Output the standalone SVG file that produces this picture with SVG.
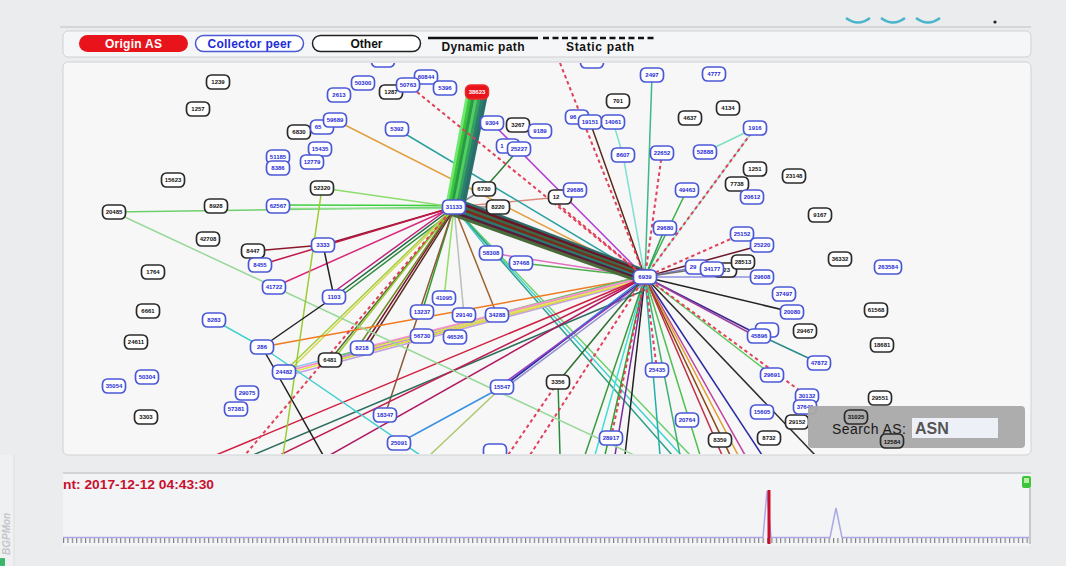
<svg xmlns="http://www.w3.org/2000/svg" width="1066" height="566" viewBox="0 0 1066 566">
<defs>
<style>
.n text{font-family:"Liberation Sans",Arial,sans-serif;font-weight:bold;font-size:6px;text-anchor:middle}
.c rect{fill:#fff;stroke:#4b58d6;stroke-width:1.7}
.c text{fill:#1e2bd6}
.o rect{fill:#fff;stroke:#2b2b2b;stroke-width:1.7}
.o text{fill:#111}
.r rect{fill:#e8131b;stroke:#ee2a2a;stroke-width:1.5}
.r text{fill:#fff}
.t rect{fill:none}
#edges line{fill:none;stroke-width:1.5}
#edges .s{stroke:#e2405a;stroke-width:2;stroke-dasharray:3.5 3}
#edges .b1 line{stroke-width:3.6}
#edges .b2 line{stroke-width:3.2}
.lg{font-family:"Liberation Sans",Arial,sans-serif;font-weight:bold;font-size:12px;text-anchor:middle}
</style>
<clipPath id="gc"><rect x="64" y="63" width="966" height="391" rx="4"/></clipPath>
<pattern id="ticks" patternUnits="userSpaceOnUse" width="4.4" height="5" x="63" y="538"><rect x="0" y="0" width="1.1" height="5" fill="#7a7a7a"/></pattern>
</defs>

<rect x="0" y="0" width="1066" height="566" fill="#ebecee"/>
<line x1="60" y1="27" x2="1031" y2="27" stroke="#d4d6d8" stroke-width="2"/>
<g id="toolbar" fill="none" stroke="#4ab4cc" stroke-width="2.5">
<path d="M846 18 Q858 27 870 18"/>
<path d="M881 18 Q893 27 905 18"/>
<path d="M916 18 Q928 27 940 18"/>
</g>
<circle cx="995" cy="22" r="1.6" fill="#222"/>
<rect x="0" y="455" width="14" height="111" fill="#eff0f1"/>
<line x1="14" y1="455" x2="14" y2="566" stroke="#dcdee0"/>
<text transform="translate(10 555) rotate(-90)" font-family="'Liberation Sans',Arial,sans-serif" font-size="10" font-style="italic" font-weight="bold" fill="#c3c6ca">BGPMon</text>
<rect x="0" y="558" width="5" height="8" rx="1" fill="#3cb46a"/>

<g id="legend">
<rect x="63" y="31" width="968" height="26" rx="5" fill="#f5f6f7" stroke="#cfd1d3"/>
<rect x="79" y="35" width="109" height="17" rx="8.5" fill="#e8131b"/>
<text class="lg" x="133.5" y="47.8" fill="#fff" textLength="57">Origin AS</text>
<rect x="195.5" y="35.5" width="108" height="16" rx="8" fill="#fff" stroke="#4b58d6" stroke-width="1.5"/>
<text class="lg" x="249.5" y="47.8" fill="#1e2bd6" textLength="84">Collector peer</text>
<rect x="312.5" y="35.5" width="108" height="16" rx="8" fill="#fff" stroke="#222" stroke-width="1.5"/>
<text class="lg" x="366.5" y="47.8" fill="#111">Other</text>
<line x1="428" y1="38" x2="538" y2="38" stroke="#111" stroke-width="2.5"/>
<text class="lg" x="483" y="51" fill="#111" textLength="83">Dynamic path</text>
<line x1="543" y1="38" x2="656" y2="38" stroke="#111" stroke-width="2.5" stroke-dasharray="6 3.5"/>
<text class="lg" x="600" y="51" fill="#111" textLength="68">Static path</text>
</g>

<rect x="63" y="62" width="968" height="393" rx="5" fill="#f7f7f8" stroke="#d0d2d4"/>

<g clip-path="url(#gc)">
<g id="edges">
<line x1="114" y1="212" x2="454" y2="207" stroke="#6fcf6f"/>
<line x1="278" y1="205" x2="454" y2="205.5" stroke="#3ecf3e" stroke-width="1.8"/>
<line x1="278" y1="208.5" x2="454" y2="208.5" stroke="#8fe08f" stroke-width="1.8"/>
<line x1="322" y1="188" x2="454" y2="207" stroke="#8edc6e"/>
<line x1="253" y1="251" x2="323" y2="245" stroke="#8a1a2a" stroke-width="1.8"/>
<line x1="323" y1="245" x2="454" y2="207" stroke="#8a1a2a" stroke-width="1.8"/>
<line x1="260" y1="265" x2="454" y2="207" stroke="#c01848"/>
<line x1="274" y1="287" x2="454" y2="207" stroke="#d8287a"/>
<line x1="334" y1="297" x2="454" y2="207" stroke="#1f6a3a" stroke-width="2.2"/>
<line x1="337" y1="299" x2="456" y2="209" stroke="#2e8b3e" stroke-width="2"/>
<line x1="331" y1="294" x2="452" y2="206" stroke="#c02080" stroke-width="1.2"/>
<line x1="362" y1="348" x2="454" y2="207" stroke="#7a1530"/>
<line x1="366" y1="348" x2="455" y2="208" stroke="#5a3020"/>
<line x1="358" y1="347" x2="453" y2="208" stroke="#6b8e23"/>
<line x1="284" y1="372" x2="454" y2="207" stroke="#a0d040"/>
<line x1="288" y1="372" x2="455" y2="208" stroke="#d8d850"/>
<line x1="330" y1="360" x2="454" y2="207" stroke="#556b2f"/>
<line x1="333" y1="360" x2="454" y2="207" stroke="#9acd32" stroke-width="1.2"/>
<line x1="422" y1="312" x2="454" y2="207" stroke="#2ca02c" stroke-width="1.8"/>
<line x1="444" y1="298" x2="454" y2="207" stroke="#8fe060"/>
<line x1="464" y1="315" x2="454" y2="207" stroke="#b8c0b8"/>
<line x1="497" y1="315" x2="454" y2="207" stroke="#a0622d"/>
<line x1="385" y1="415" x2="454" y2="207" stroke="#8b5a3a"/>
<line x1="454" y1="207" x2="681" y2="455" stroke="#40d0d0"/>
<line x1="454" y1="207" x2="690" y2="455" stroke="#6ad06a"/>
<line x1="454" y1="207" x2="672" y2="455" stroke="#2aa08a"/>
<line x1="454" y1="207" x2="484" y2="189" stroke="#888" stroke-width="1.2"/>
<line x1="454" y1="207" x2="498" y2="207" stroke="#888" stroke-width="1.2"/>
<line x1="454" y1="207" x2="560" y2="197" stroke="#e08a7a"/>
<line x1="454" y1="207" x2="491" y2="253" stroke="#40c0c0"/>
<line x1="335" y1="120" x2="645" y2="277" stroke="#e0a040"/>
<line x1="397" y1="129" x2="645" y2="277" stroke="#2aa0a0"/>
<line x1="492" y1="123" x2="645" y2="277" stroke="#b040d0"/>
<line x1="519" y1="149" x2="484" y2="189" stroke="#2e7d32"/>
<line x1="491" y1="253" x2="645" y2="277" stroke="#e070c0"/>
<line x1="521" y1="263" x2="645" y2="277" stroke="#50b050"/>
<line x1="652" y1="75" x2="645" y2="277" stroke="#3cb88a" stroke-width="1.8"/>
<line x1="590" y1="122" x2="645" y2="277" stroke="#5a2a1a" stroke-width="1.8"/>
<line x1="613" y1="122" x2="623" y2="155" stroke="#7fe0d0"/>
<line x1="623" y1="155" x2="645" y2="277" stroke="#7fe0d0"/>
<line x1="687" y1="190" x2="645" y2="277" stroke="#3cb043" stroke-width="2"/>
<line x1="755" y1="128" x2="705" y2="152" stroke="#7fe0c0"/>
<line x1="755" y1="128" x2="645" y2="277" stroke="#9fe8c8"/>
<line x1="665" y1="228" x2="645" y2="277" stroke="#2ca060"/>
<line x1="762" y1="245" x2="645" y2="277" stroke="#6a1a2a"/>
<line x1="697" y1="267" x2="645" y2="277" stroke="#8080d0" stroke-width="1.2"/>
<line x1="743" y1="262" x2="645" y2="277" stroke="#707070" stroke-width="1.2"/>
<line x1="762" y1="277" x2="645" y2="277" stroke="#9090e0" stroke-width="1.2"/>
<line x1="645" y1="277" x2="792" y2="312" stroke="#222"/>
<line x1="645" y1="277" x2="759" y2="335" stroke="#3a2a8a" stroke-width="2"/>
<line x1="645" y1="277" x2="757" y2="337" stroke="#a040a0" stroke-width="1.2"/>
<line x1="759" y1="335" x2="819" y2="363" stroke="#2a8a8a"/>
<line x1="645" y1="277" x2="772" y2="375" stroke="#5ac85a" stroke-width="1.8"/>
<line x1="645" y1="277" x2="815" y2="455" stroke="#2a2a2a"/>
<line x1="645" y1="277" x2="762" y2="455" stroke="#2a2aa0"/>
<line x1="645" y1="277" x2="745" y2="455" stroke="#c040a0"/>
<line x1="645" y1="277" x2="738" y2="455" stroke="#e0a030"/>
<line x1="645" y1="277" x2="730" y2="455" stroke="#8b4513"/>
<line x1="645" y1="277" x2="722" y2="455" stroke="#c0304a"/>
<line x1="645" y1="277" x2="700" y2="455" stroke="#50c050"/>
<line x1="645" y1="277" x2="680" y2="455" stroke="#3cb371"/>
<line x1="645" y1="277" x2="660" y2="455" stroke="#20b2aa" stroke-width="1.2"/>
<line x1="645" y1="277" x2="625" y2="455" stroke="#222"/>
<line x1="645" y1="277" x2="615" y2="455" stroke="#7a2a9a"/>
<line x1="645" y1="277" x2="605" y2="455" stroke="#2ca02c"/>
<line x1="645" y1="277" x2="595" y2="455" stroke="#40e0d0"/>
<line x1="645" y1="277" x2="585" y2="455" stroke="#3a9a3a"/>
<line x1="262" y1="347" x2="645" y2="277" stroke="#f07a20" stroke-width="1.8"/>
<line x1="284" y1="372" x2="645" y2="277" stroke="#ff80c0"/>
<line x1="284" y1="374" x2="645" y2="279" stroke="#e0e050"/>
<line x1="284" y1="370" x2="645" y2="276" stroke="#90c8f0"/>
<line x1="286" y1="376" x2="645" y2="280" stroke="#c0a0e0"/>
<line x1="330" y1="360" x2="645" y2="277" stroke="#c080e0"/>
<line x1="330" y1="362" x2="645" y2="279" stroke="#d8d840"/>
<line x1="330" y1="358" x2="645" y2="275" stroke="#60c060" stroke-width="1.2"/>
<line x1="362" y1="348" x2="645" y2="277" stroke="#ff90d0"/>
<line x1="362" y1="350" x2="645" y2="279" stroke="#e8e060"/>
<line x1="216" y1="455" x2="645" y2="277" stroke="#d02040" stroke-width="1.8"/>
<line x1="253" y1="455" x2="645" y2="290" stroke="#2e6e5e"/>
<line x1="280" y1="455" x2="645" y2="277" stroke="#c02050"/>
<line x1="330" y1="455" x2="645" y2="277" stroke="#b01860"/>
<line x1="502" y1="387" x2="645" y2="277" stroke="#3a80e0"/>
<line x1="504" y1="386" x2="645" y2="279" stroke="#2a2aa0"/>
<line x1="500" y1="386" x2="645" y2="281" stroke="#9a40c0"/>
<line x1="505" y1="388" x2="645" y2="283" stroke="#9090d0" stroke-width="1.2"/>
<line x1="558" y1="382" x2="645" y2="277" stroke="#2e6e2e"/>
<line x1="558" y1="382" x2="560" y2="455" stroke="#2a8a3a"/>
<line x1="502" y1="387" x2="399" y2="443" stroke="#3a90e0"/>
<line x1="502" y1="387" x2="430" y2="455" stroke="#b0c870"/>
<line x1="114" y1="212" x2="634" y2="455" stroke="#98d898"/>
<line x1="322" y1="188" x2="283" y2="455" stroke="#9acd32"/>
<line x1="214" y1="320" x2="262" y2="347" stroke="#40d0d0" stroke-width="1.8"/>
<line x1="262" y1="347" x2="420" y2="455" stroke="#40d0d0" stroke-width="1.8"/>
<line x1="262" y1="347" x2="334" y2="297" stroke="#222"/>
<line x1="262" y1="347" x2="323" y2="455" stroke="#222"/>
<line x1="323" y1="245" x2="334" y2="297" stroke="#222"/>
<g class="b1">
<line x1="468.6" y1="90.3" x2="447.2" y2="205.6" stroke="#6fe86f"/>
<line x1="471.6" y1="90.9" x2="449.8" y2="206.1" stroke="#3cc43c"/>
<line x1="474.5" y1="91.5" x2="452.4" y2="206.6" stroke="#2a9a4a"/>
<line x1="477.5" y1="92.1" x2="455" y2="207.1" stroke="#4fd05f"/>
<line x1="480.4" y1="92.7" x2="457.6" y2="207.6" stroke="#35a060"/>
<line x1="483.4" y1="93.3" x2="460.2" y2="208.1" stroke="#2b7d6d"/>
<line x1="486.3" y1="93.9" x2="462.8" y2="208.6" stroke="#2a6f6a"/>
</g>
<g class="b2">
<line x1="456.7" y1="199.7" x2="647.1" y2="271.4" stroke="#2e6b68"/>
<line x1="455.8" y1="202.1" x2="646.4" y2="273.2" stroke="#6b1424"/>
<line x1="454.9" y1="204.6" x2="645.7" y2="275.1" stroke="#3d6a4a"/>
<line x1="454" y1="207" x2="645" y2="277" stroke="#7a2a18"/>
<line x1="453.1" y1="209.4" x2="644.3" y2="278.9" stroke="#2a7a70"/>
<line x1="452.2" y1="211.9" x2="643.6" y2="280.8" stroke="#5a1a3a"/>
<line x1="451.3" y1="214.3" x2="642.9" y2="282.6" stroke="#4a6a3a"/>
</g>
<line class="s" x1="560" y1="63" x2="645" y2="277"/>
<line class="s" x1="412" y1="88" x2="645" y2="277"/>
<line class="s" x1="755" y1="128" x2="645" y2="277"/>
<line class="s" x1="662" y1="153" x2="645" y2="277"/>
<line class="s" x1="553" y1="200" x2="645" y2="277"/>
<line class="s" x1="742" y1="234" x2="645" y2="277"/>
<line class="s" x1="657" y1="370" x2="645" y2="277"/>
<line class="s" x1="611" y1="438" x2="645" y2="277"/>
<line class="s" x1="645" y1="277" x2="807" y2="396"/>
<line class="s" x1="645" y1="277" x2="530" y2="455"/>
<line class="s" x1="558" y1="382" x2="508" y2="455"/>
<line class="s" x1="454" y1="207" x2="245" y2="455"/>
</g>

<g id="nodes">
<g id="n-top1" class="n c" transform="translate(383 60)"><rect x="-11.5" y="-7" width="23" height="14" rx="5"/></g>
<g id="n-top2" class="n c" transform="translate(592 61)"><rect x="-11.5" y="-7" width="23" height="14" rx="5"/></g>
<g id="n1239" class="n o" transform="translate(218 82)"><rect x="-11.5" y="-7" width="23" height="14" rx="5"/><text y="2.2">1239</text></g>
<g id="n1257" class="n o" transform="translate(198 109)"><rect x="-11.5" y="-7" width="23" height="14" rx="5"/><text y="2.2">1257</text></g>
<g id="n6830" class="n o" transform="translate(299 132)"><rect x="-11.5" y="-7" width="23" height="14" rx="5"/><text y="2.2">6830</text></g>
<g id="n15623" class="n o" transform="translate(173 180)"><rect x="-11.5" y="-7" width="23" height="14" rx="5"/><text y="2.2">15623</text></g>
<g id="n20485" class="n o" transform="translate(114 212)"><rect x="-11.5" y="-7" width="23" height="14" rx="5"/><text y="2.2">20485</text></g>
<g id="n8928" class="n o" transform="translate(216 206)"><rect x="-11.5" y="-7" width="23" height="14" rx="5"/><text y="2.2">8928</text></g>
<g id="n42708" class="n o" transform="translate(208 239)"><rect x="-11.5" y="-7" width="23" height="14" rx="5"/><text y="2.2">42708</text></g>
<g id="n52320" class="n o" transform="translate(322 188)"><rect x="-11.5" y="-7" width="23" height="14" rx="5"/><text y="2.2">52320</text></g>
<g id="n1764" class="n o" transform="translate(153 272)"><rect x="-11.5" y="-7" width="23" height="14" rx="5"/><text y="2.2">1764</text></g>
<g id="n6661" class="n o" transform="translate(148 311)"><rect x="-11.5" y="-7" width="23" height="14" rx="5"/><text y="2.2">6661</text></g>
<g id="n24611" class="n o" transform="translate(136 342)"><rect x="-11.5" y="-7" width="23" height="14" rx="5"/><text y="2.2">24611</text></g>
<g id="n3303" class="n o" transform="translate(146 417)"><rect x="-11.5" y="-7" width="23" height="14" rx="5"/><text y="2.2">3303</text></g>
<g id="n50304" class="n c" transform="translate(147 377)"><rect x="-11.5" y="-7" width="23" height="14" rx="5"/><text y="2.2">50304</text></g>
<g id="n35054" class="n c" transform="translate(114 386)"><rect x="-11.5" y="-7" width="23" height="14" rx="5"/><text y="2.2">35054</text></g>
<g id="n2613" class="n c" transform="translate(339 95)"><rect x="-11.5" y="-7" width="23" height="14" rx="5"/><text y="2.2">2613</text></g>
<g id="n50300" class="n c" transform="translate(363 83)"><rect x="-11.5" y="-7" width="23" height="14" rx="5"/><text y="2.2">50300</text></g>
<g id="n1287" class="n o" transform="translate(391 92)"><rect x="-11.5" y="-7" width="23" height="14" rx="5"/><text y="2.2">1287</text></g>
<g id="n60844" class="n c" transform="translate(426 77)"><rect x="-11.5" y="-7" width="23" height="14" rx="5"/><text y="2.2">60844</text></g>
<g id="n50763" class="n c" transform="translate(408 85)"><rect x="-11.5" y="-7" width="23" height="14" rx="5"/><text y="2.2">50763</text></g>
<g id="n5396" class="n c" transform="translate(445 88)"><rect x="-11.5" y="-7" width="23" height="14" rx="5"/><text y="2.2">5396</text></g>
<g id="n65" class="n c" transform="translate(322 127)"><rect x="-11.5" y="-7" width="23" height="14" rx="5"/><text x="-4" y="2.2">65</text></g>
<g id="n59689" class="n c" transform="translate(335 120)"><rect x="-11.5" y="-7" width="23" height="14" rx="5"/><text y="2.2">59689</text></g>
<g id="n51185" class="n c" transform="translate(278 157)"><rect x="-11.5" y="-7" width="23" height="14" rx="5"/><text y="2.2">51185</text></g>
<g id="n8386" class="n c" transform="translate(278 168)"><rect x="-11.5" y="-7" width="23" height="14" rx="5"/><text y="2.2">8386</text></g>
<g id="n15435" class="n c" transform="translate(320 149)"><rect x="-11.5" y="-7" width="23" height="14" rx="5"/><text y="2.2">15435</text></g>
<g id="n12779" class="n c" transform="translate(312 162)"><rect x="-11.5" y="-7" width="23" height="14" rx="5"/><text y="2.2">12779</text></g>
<g id="n62567" class="n c" transform="translate(278 206)"><rect x="-11.5" y="-7" width="23" height="14" rx="5"/><text y="2.2">62567</text></g>
<g id="n8447" class="n o" transform="translate(253 251)"><rect x="-11.5" y="-7" width="23" height="14" rx="5"/><text y="2.2">8447</text></g>
<g id="n3333" class="n c" transform="translate(323 245)"><rect x="-11.5" y="-7" width="23" height="14" rx="5"/><text y="2.2">3333</text></g>
<g id="n8455" class="n c" transform="translate(260 265)"><rect x="-11.5" y="-7" width="23" height="14" rx="5"/><text y="2.2">8455</text></g>
<g id="n41722" class="n c" transform="translate(274 287)"><rect x="-11.5" y="-7" width="23" height="14" rx="5"/><text y="2.2">41722</text></g>
<g id="n1103" class="n c" transform="translate(334 297)"><rect x="-11.5" y="-7" width="23" height="14" rx="5"/><text y="2.2">1103</text></g>
<g id="n8283" class="n c" transform="translate(214 320)"><rect x="-11.5" y="-7" width="23" height="14" rx="5"/><text y="2.2">8283</text></g>
<g id="n286" class="n c" transform="translate(262 347)"><rect x="-11.5" y="-7" width="23" height="14" rx="5"/><text y="2.2">286</text></g>
<g id="n24482" class="n c" transform="translate(284 372)"><rect x="-11.5" y="-7" width="23" height="14" rx="5"/><text y="2.2">24482</text></g>
<g id="n6481" class="n o" transform="translate(330 360)"><rect x="-11.5" y="-7" width="23" height="14" rx="5"/><text y="2.2">6481</text></g>
<g id="n29075" class="n c" transform="translate(247 393)"><rect x="-11.5" y="-7" width="23" height="14" rx="5"/><text y="2.2">29075</text></g>
<g id="n57381" class="n c" transform="translate(236 409)"><rect x="-11.5" y="-7" width="23" height="14" rx="5"/><text y="2.2">57381</text></g>
<g id="n5392" class="n c" transform="translate(397 129)"><rect x="-11.5" y="-7" width="23" height="14" rx="5"/><text y="2.2">5392</text></g>
<g id="n38623" class="n r" transform="translate(477 92)"><rect x="-11.5" y="-7" width="23" height="14" rx="5"/><text y="2.2">38623</text></g>
<g id="n9304" class="n c" transform="translate(492 123)"><rect x="-11.5" y="-7" width="23" height="14" rx="5"/><text y="2.2">9304</text></g>
<g id="n3267" class="n o" transform="translate(518 125)"><rect x="-11.5" y="-7" width="23" height="14" rx="5"/><text y="2.2">3267</text></g>
<g id="n9189" class="n c" transform="translate(540 131)"><rect x="-11.5" y="-7" width="23" height="14" rx="5"/><text y="2.2">9189</text></g>
<g id="n1x" class="n c" transform="translate(508 146)"><rect x="-11.5" y="-7" width="23" height="14" rx="5"/><text x="-6" y="2.2">1</text></g>
<g id="n25227" class="n c" transform="translate(519 149)"><rect x="-11.5" y="-7" width="23" height="14" rx="5"/><text y="2.2">25227</text></g>
<g id="n6730" class="n o" transform="translate(484 189)"><rect x="-11.5" y="-7" width="23" height="14" rx="5"/><text y="2.2">6730</text></g>
<g id="n8220" class="n o" transform="translate(498 207)"><rect x="-11.5" y="-7" width="23" height="14" rx="5"/><text y="2.2">8220</text></g>
<g id="n12x" class="n o" transform="translate(560 197)"><rect x="-11.5" y="-7" width="23" height="14" rx="5"/><text x="-4" y="2.2">12</text></g>
<g id="n29686" class="n c" transform="translate(575 190)"><rect x="-11.5" y="-7" width="23" height="14" rx="5"/><text y="2.2">29686</text></g>
<g id="n31133" class="n c" transform="translate(454 207)"><rect x="-11.5" y="-7" width="23" height="14" rx="5"/><text y="2.2">31133</text></g>
<g id="n58308" class="n c" transform="translate(491 253)"><rect x="-11.5" y="-7" width="23" height="14" rx="5"/><text y="2.2">58308</text></g>
<g id="n37468" class="n c" transform="translate(521 263)"><rect x="-11.5" y="-7" width="23" height="14" rx="5"/><text y="2.2">37468</text></g>
<g id="n41095" class="n c" transform="translate(444 298)"><rect x="-11.5" y="-7" width="23" height="14" rx="5"/><text y="2.2">41095</text></g>
<g id="n13237" class="n c" transform="translate(422 312)"><rect x="-11.5" y="-7" width="23" height="14" rx="5"/><text y="2.2">13237</text></g>
<g id="n29140" class="n c" transform="translate(464 315)"><rect x="-11.5" y="-7" width="23" height="14" rx="5"/><text y="2.2">29140</text></g>
<g id="n34288" class="n c" transform="translate(497 315)"><rect x="-11.5" y="-7" width="23" height="14" rx="5"/><text y="2.2">34288</text></g>
<g id="n56730" class="n c" transform="translate(422 336)"><rect x="-11.5" y="-7" width="23" height="14" rx="5"/><text y="2.2">56730</text></g>
<g id="n46526" class="n c" transform="translate(455 337)"><rect x="-11.5" y="-7" width="23" height="14" rx="5"/><text y="2.2">46526</text></g>
<g id="n8218" class="n c" transform="translate(362 348)"><rect x="-11.5" y="-7" width="23" height="14" rx="5"/><text y="2.2">8218</text></g>
<g id="n15547" class="n c" transform="translate(502 387)"><rect x="-11.5" y="-7" width="23" height="14" rx="5"/><text y="2.2">15547</text></g>
<g id="n3356" class="n o" transform="translate(558 382)"><rect x="-11.5" y="-7" width="23" height="14" rx="5"/><text y="2.2">3356</text></g>
<g id="n18347" class="n c" transform="translate(385 415)"><rect x="-11.5" y="-7" width="23" height="14" rx="5"/><text y="2.2">18347</text></g>
<g id="n25091" class="n c" transform="translate(399 443)"><rect x="-11.5" y="-7" width="23" height="14" rx="5"/><text y="2.2">25091</text></g>
<g id="n-bot" class="n c" transform="translate(495 451)"><rect x="-11.5" y="-7" width="23" height="14" rx="5"/></g>
<g id="n2497" class="n c" transform="translate(652 75)"><rect x="-11.5" y="-7" width="23" height="14" rx="5"/><text y="2.2">2497</text></g>
<g id="n4777" class="n c" transform="translate(714 74)"><rect x="-11.5" y="-7" width="23" height="14" rx="5"/><text y="2.2">4777</text></g>
<g id="n701" class="n o" transform="translate(618 101)"><rect x="-11.5" y="-7" width="23" height="14" rx="5"/><text y="2.2">701</text></g>
<g id="n4637" class="n o" transform="translate(690 118)"><rect x="-11.5" y="-7" width="23" height="14" rx="5"/><text y="2.2">4637</text></g>
<g id="n4134" class="n o" transform="translate(728 108)"><rect x="-11.5" y="-7" width="23" height="14" rx="5"/><text y="2.2">4134</text></g>
<g id="n96x" class="n c" transform="translate(577 117)"><rect x="-11.5" y="-7" width="23" height="14" rx="5"/><text x="-4" y="2.2">96</text></g>
<g id="n19151" class="n c" transform="translate(590 122)"><rect x="-11.5" y="-7" width="23" height="14" rx="5"/><text y="2.2">19151</text></g>
<g id="n14061" class="n c" transform="translate(613 122)"><rect x="-11.5" y="-7" width="23" height="14" rx="5"/><text y="2.2">14061</text></g>
<g id="n1916" class="n c" transform="translate(755 128)"><rect x="-11.5" y="-7" width="23" height="14" rx="5"/><text y="2.2">1916</text></g>
<g id="n8607" class="n c" transform="translate(623 155)"><rect x="-11.5" y="-7" width="23" height="14" rx="5"/><text y="2.2">8607</text></g>
<g id="n22652" class="n c" transform="translate(662 153)"><rect x="-11.5" y="-7" width="23" height="14" rx="5"/><text y="2.2">22652</text></g>
<g id="n52888" class="n c" transform="translate(705 152)"><rect x="-11.5" y="-7" width="23" height="14" rx="5"/><text y="2.2">52888</text></g>
<g id="n1251" class="n o" transform="translate(755 169)"><rect x="-11.5" y="-7" width="23" height="14" rx="5"/><text y="2.2">1251</text></g>
<g id="n23148" class="n o" transform="translate(794 176)"><rect x="-11.5" y="-7" width="23" height="14" rx="5"/><text y="2.2">23148</text></g>
<g id="n7738" class="n o" transform="translate(737 184)"><rect x="-11.5" y="-7" width="23" height="14" rx="5"/><text y="2.2">7738</text></g>
<g id="n20612" class="n c" transform="translate(752 197)"><rect x="-11.5" y="-7" width="23" height="14" rx="5"/><text y="2.2">20612</text></g>
<g id="n49463" class="n c" transform="translate(687 190)"><rect x="-11.5" y="-7" width="23" height="14" rx="5"/><text y="2.2">49463</text></g>
<g id="n9167" class="n o" transform="translate(820 215)"><rect x="-11.5" y="-7" width="23" height="14" rx="5"/><text y="2.2">9167</text></g>
<g id="n29680" class="n c" transform="translate(665 228)"><rect x="-11.5" y="-7" width="23" height="14" rx="5"/><text y="2.2">29680</text></g>
<g id="n25152" class="n c" transform="translate(742 234)"><rect x="-11.5" y="-7" width="23" height="14" rx="5"/><text y="2.2">25152</text></g>
<g id="n25220" class="n c" transform="translate(762 245)"><rect x="-11.5" y="-7" width="23" height="14" rx="5"/><text y="2.2">25220</text></g>
<g id="n36332" class="n o" transform="translate(840 259)"><rect x="-11.5" y="-7" width="23" height="14" rx="5"/><text y="2.2">36332</text></g>
<g id="n263584" class="n c" transform="translate(888 267)"><rect x="-13.5" y="-7" width="27" height="14" rx="5"/><text y="2.2">263584</text></g>
<g id="n29x" class="n c" transform="translate(697 267)"><rect x="-11.5" y="-7" width="23" height="14" rx="5"/><text x="-4" y="2.2">29</text></g>
<g id="n423" class="n o" transform="translate(725 270)"><rect x="-11.5" y="-7" width="23" height="14" rx="5"/><text y="2.2">423</text></g>
<g id="n34177" class="n c" transform="translate(712 269)"><rect x="-11.5" y="-7" width="23" height="14" rx="5"/><text y="2.2">34177</text></g>
<g id="n28513" class="n o" transform="translate(743 262)"><rect x="-11.5" y="-7" width="23" height="14" rx="5"/><text y="2.2">28513</text></g>
<g id="n29608" class="n c" transform="translate(762 277)"><rect x="-11.5" y="-7" width="23" height="14" rx="5"/><text y="2.2">29608</text></g>
<g id="n6939" class="n c" transform="translate(645 277)"><rect x="-11.5" y="-7" width="23" height="14" rx="5"/><text y="2.2">6939</text></g>
<g id="n37497" class="n c" transform="translate(784 294)"><rect x="-11.5" y="-7" width="23" height="14" rx="5"/><text y="2.2">37497</text></g>
<g id="n20080" class="n c" transform="translate(792 312)"><rect x="-11.5" y="-7" width="23" height="14" rx="5"/><text y="2.2">20080</text></g>
<g id="n29467" class="n o" transform="translate(805 331)"><rect x="-11.5" y="-7" width="23" height="14" rx="5"/><text y="2.2">29467</text></g>
<g id="n61568" class="n o" transform="translate(876 310)"><rect x="-11.5" y="-7" width="23" height="14" rx="5"/><text y="2.2">61568</text></g>
<g id="n18681" class="n o" transform="translate(882 345)"><rect x="-11.5" y="-7" width="23" height="14" rx="5"/><text y="2.2">18681</text></g>
<g id="n-bh" class="n c" transform="translate(767 330)"><rect x="-11.5" y="-7" width="23" height="14" rx="5"/></g>
<g id="n45896" class="n c" transform="translate(759 336)"><rect x="-11.5" y="-7" width="23" height="14" rx="5"/><text y="2.2">45896</text></g>
<g id="n47872" class="n c" transform="translate(819 363)"><rect x="-11.5" y="-7" width="23" height="14" rx="5"/><text y="2.2">47872</text></g>
<g id="n25435" class="n c" transform="translate(657 370)"><rect x="-11.5" y="-7" width="23" height="14" rx="5"/><text y="2.2">25435</text></g>
<g id="n29691" class="n c" transform="translate(772 375)"><rect x="-11.5" y="-7" width="23" height="14" rx="5"/><text y="2.2">29691</text></g>
<g id="n29551" class="n o" transform="translate(880 398)"><rect x="-11.5" y="-7" width="23" height="14" rx="5"/><text y="2.2">29551</text></g>
<g id="n15605" class="n c" transform="translate(762 412)"><rect x="-11.5" y="-7" width="23" height="14" rx="5"/><text y="2.2">15605</text></g>
<g id="n20764" class="n c" transform="translate(687 420)"><rect x="-11.5" y="-7" width="23" height="14" rx="5"/><text y="2.2">20764</text></g>
<g id="n8359" class="n o" transform="translate(720 440)"><rect x="-11.5" y="-7" width="23" height="14" rx="5"/><text y="2.2">8359</text></g>
<g id="n8732" class="n o" transform="translate(769 438)"><rect x="-11.5" y="-7" width="23" height="14" rx="5"/><text y="2.2">8732</text></g>
<g id="n28917" class="n c" transform="translate(611 438)"><rect x="-11.5" y="-7" width="23" height="14" rx="5"/><text y="2.2">28917</text></g>
<g id="n29152" class="n o" transform="translate(797 422)"><rect x="-11.5" y="-7" width="23" height="14" rx="5"/><text y="2.2">29152</text></g>
<g id="n30132" class="n c" transform="translate(807 396)"><rect x="-11.5" y="-7" width="23" height="14" rx="5"/><text y="2.2">30132</text></g>
<g id="n37640" class="n c" transform="translate(805 407)"><rect x="-11.5" y="-7" width="23" height="14" rx="5"/><text y="2.2">37640</text></g>
</g>
</g>

<g id="search">
<rect x="808" y="406" width="217" height="42" rx="4" fill="#a9a9a9" opacity="0.95"/>
<text x="832" y="434" font-family="'Liberation Sans',Arial,sans-serif" font-size="14" fill="#1a1a1a" textLength="74">Search AS:</text>
<rect x="912" y="418" width="86" height="20" fill="#eef0f8"/>
<text x="915" y="434" font-family="'Liberation Sans',Arial,sans-serif" font-size="16" font-weight="bold" fill="#555">ASN</text>
<g id="n31025" class="n o t" transform="translate(856 417)"><rect x="-11.5" y="-7" width="23" height="14" rx="5"/><text y="2.2">31025</text></g>
<g id="n12584" class="n o t" transform="translate(892 441)"><rect x="-11.5" y="-7" width="23" height="14" rx="5"/><text y="3">12584</text></g>
</g>

<g id="timeline">
<rect x="63" y="473" width="968" height="73" fill="#f3f4f5"/>
<line x1="63" y1="473" x2="1031" y2="473" stroke="#c8cacc" stroke-width="1.5"/>
<text x="63" y="489" font-family="'Liberation Sans',Arial,sans-serif" font-size="12.5" font-weight="bold" fill="#c8102e" textLength="151" lengthAdjust="spacingAndGlyphs">nt: 2017-12-12 04:43:30</text>
<rect x="63" y="538" width="966" height="5" fill="url(#ticks)"/>
<polyline points="63,537.5 763,537.5 767,491 771,537.5 830,537.5 836,508 842,537.5 1029,537.5" fill="none" stroke="#aaa8e6" stroke-width="1.5"/>
<line x1="769" y1="490" x2="769" y2="544" stroke="#c8102e" stroke-width="3"/>
<line x1="1030" y1="488" x2="1030" y2="544" stroke="#9a9a9a" stroke-width="1"/>
<rect x="1022" y="476" width="9" height="12" rx="2" fill="#3cc43c"/>
<rect x="1024" y="478" width="5" height="5" fill="#b8f0a0"/>
</g>
</svg>
